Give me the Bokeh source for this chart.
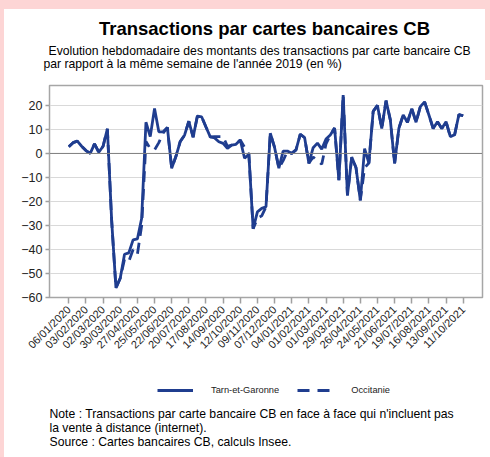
from bokeh.plotting import figure
from bokeh.models import Range1d, FixedTicker, Label, Legend, LegendItem, Span, ColumnDataSource
from bokeh.layouts import column
from bokeh.embed import file_html
from bokeh.resources import INLINE
from math import pi

tick_labels = ["06/01/2020", "03/02/2020", "02/03/2020", "30/03/2020", "27/04/2020",
               "25/05/2020", "22/06/2020", "20/07/2020", "17/08/2020", "14/09/2020",
               "12/10/2020", "09/11/2020", "07/12/2020", "04/01/2021", "01/02/2021",
               "01/03/2021", "29/03/2021", "26/04/2021", "24/05/2021", "21/06/2021",
               "19/07/2021", "16/08/2021", "13/09/2021", "11/10/2021"]

# weekly values, 06/01/2020 .. 11/10/2021
teg = [2.8, 4.5, 5.1, 3.0, 1.2, 0.0, 4.0, 0.5, 3.0, 10.3,
       -28, -56, -52, -42, -41.4, -36, -35.6, -27, 13, 7,
       18.7, 9, 9, 10.8, -6.2, -1.2, 5, 7.6, 13.4, 6.8,
       15.6, 15.2, 11, 6.9, 6.5, 4.9, 4.2, 2.1, 3.5, 3.8,
       5.6, -2, -0.3, -31.3, -24.3, -22.9, -22.2, 8.4, 2.5, -6.1,
       1, 1, 0, 1.5, 8, 6.6, -4.1, 2.4, 4.3, 1.8,
       6, 7.7, 10.6, -11.1, 24.3, -17.5, -1.5, -6, -19.5, 2,
       -4, 17.5, 20, 10.4, 22, 14, -4.2, 10.5, 16, 13,
       18.7, 13, 19.5, 21.5, 16, 10.4, 13.2, 10.4, 13.2, 7,
       7.8, 16.2, 15.7]

occ = [2.8, 4.5, 5.1, 3.0, 1.2, 0.0, 4.0, 0.5, 3.0, 10.3,
       -28, -56, -52, -44, -45, -40, -42, -30, 5, 2,
       1.5, 4.5, 8.5, 10.8, -6.2, -1.2, 5, 7.6, 13.4, 6.8,
       15.6, 15.2, 11, 6.9, 7, 7, 7, 3, 3.5, 3.8,
       5.6, 2.5, -0.3, -31.3, -27, -26, -22.2, 8.4, 2.5, -6.1,
       -3, 1, 0, 1.5, 8, 6.6, -4.1, -1.5, -3, -4.5,
       4, 7.7, 10.6, -11.1, 24.3, -17.5, -1.5, -6, -19.5, -6,
       -4, 17.5, 20, 10.4, 22, 14, -4.2, 10.5, 16, 13,
       18.7, 13, 19.5, 21.5, 16, 10.4, 13.2, 10.4, 13.2, 7,
       7.8, 16.2, 15.7]

weeks = list(range(len(teg)))
src = ColumnDataSource(data=dict(w=weeks, teg=teg, occ=occ))

BLUE = "#1f3d8f"
FONT = "Liberation Sans"
PINK = "#fdd5d5"

W = 486
TOP_W = 481
TOP_H = 74
MAIN_H = 292
BOT_H = 457 - 9 - TOP_H - MAIN_H


def no_align(f):
    try:
        f.frame_align = False
    except Exception:
        pass


def text_fig(w, h):
    f = figure(width=w, height=h, output_backend="svg", toolbar_location=None,
               x_range=Range1d(0, w), y_range=Range1d(h, 0),
               x_axis_location=None, y_axis_location=None,
               min_border=0, min_border_left=0, min_border_right=0,
               min_border_top=0, min_border_bottom=0)
    f.grid.visible = False
    f.outline_line_color = None
    f.background_fill_color = "white"
    f.border_fill_color = "white"
    no_align(f)
    return f


def lab(f, x, y, text, size, align="left", bold=False):
    f.add_layout(Label(x=x, y=y, text=text, text_font=FONT, text_font_size=size,
                       text_align=align, text_baseline="middle", text_color="black",
                       text_font_style="bold" if bold else "normal"))


# ---- title block (window offset x=4, y=9)
top = text_fig(TOP_W, TOP_H)
top.margin = (9, 0, 0, 4)
lab(top, 264 - 4, 28 - 9, "Transactions par cartes bancaires CB", "18.5px", align="center", bold=True)
lab(top, 48 - 4, 50 - 9, "Evolution hebdomadaire des montants des transactions par carte bancaire CB", "12.2px")
lab(top, 43 - 4, 63 - 9, "par rapport à la même semaine de l'année 2019 (en %)", "12.2px")

# ---- main chart
p = figure(width=W, height=MAIN_H, output_backend="svg", toolbar_location=None,
           x_range=Range1d(-4.5, 96.5), y_range=Range1d(-60, 28.3),
           min_border_left=45, min_border_right=8, min_border_top=2,
           min_border_bottom=MAIN_H - 2 - 212)
p.margin = (0, 0, 0, 4)
no_align(p)
p.background_fill_color = "white"
p.border_fill_color = "white"
p.outline_line_color = "#a6a6a6"
p.outline_line_width = 1.5

p.xgrid.visible = False
p.ygrid.grid_line_color = "#d9d9d9"
p.ygrid.grid_line_width = 1
p.yaxis.ticker = FixedTicker(ticks=[-60, -50, -40, -30, -20, -10, 0, 10, 20])
p.xaxis.ticker = FixedTicker(ticks=[4 * i for i in range(len(tick_labels))])
p.xaxis.major_label_overrides = {4 * i: t for i, t in enumerate(tick_labels)}
p.xaxis.major_label_orientation = pi / 4
for ax in (p.xaxis, p.yaxis):
    ax.axis_line_color = None
    ax.major_tick_line_color = "#a0a0a0"
    ax.major_tick_line_width = 1.5
    ax.minor_tick_line_color = None
    ax.major_tick_in = 0
    ax.major_label_text_font = FONT
    ax.major_label_text_color = "#222222"
p.xaxis.major_tick_out = 6
p.yaxis.major_tick_out = 4
p.xaxis.major_label_text_font_size = "11px"
p.xaxis.major_label_standoff = 4
p.yaxis.major_label_text_font_size = "12.5px"
p.yaxis.major_label_standoff = 3

p.add_layout(Span(location=0, dimension="width", line_color="#7f7f7f", line_width=1))

r_occ = p.line("w", "occ", source=src, line_color=BLUE, line_width=2.8, line_dash="11 7")
r_teg = p.line("w", "teg", source=src, line_color=BLUE, line_width=2.8)

# ---- legend + notes block
bot = text_fig(W, BOT_H)
bot.margin = (0, 0, 0, 4)
bot_y0 = 9 + TOP_H + MAIN_H  # window y of this block's top
nan = float("nan")
k_teg = bot.line(x=[nan], y=[nan], line_color=BLUE, line_width=3)
k_occ = bot.line(x=[nan], y=[nan], line_color=BLUE, line_width=3, line_dash="12 8")
legend = Legend(items=[LegendItem(label="Tarn-et-Garonne", renderers=[k_teg]),
                       LegendItem(label="Occitanie", renderers=[k_occ])],
                orientation="horizontal",
                location=(157 - 4, BOT_H - (390 - bot_y0) - 5),
                glyph_width=36, glyph_height=10, label_height=10, label_standoff=18, spacing=18,
                padding=0, margin=0, border_line_color=None, background_fill_alpha=0,
                label_text_font=FONT, label_text_font_size="9.3px", label_text_color="#222222")
bot.add_layout(legend, "center")
lab(bot, 49 - 4, 413 - bot_y0, "Note : Transactions par carte bancaire CB en face à face qui n'incluent pas", "12.2px")
lab(bot, 49 - 4, 427 - bot_y0, "la vente à distance (internet).", "12.2px")
lab(bot, 49 - 4, 441 - bot_y0, "Source : Cartes bancaires CB, calculs Insee.", "12.2px")

bg = (f"linear-gradient({PINK},{PINK}) 0 0 / 100% 9px no-repeat, "
      f"linear-gradient({PINK},{PINK}) 0 0 / 4px 100% no-repeat, "
      f"linear-gradient({PINK},{PINK}) 485px 0 / 5px 80px no-repeat, white")
page = column(top, p, bot, spacing=0, styles={"background": bg})
open("out.html", "w").write(file_html(page, INLINE))
